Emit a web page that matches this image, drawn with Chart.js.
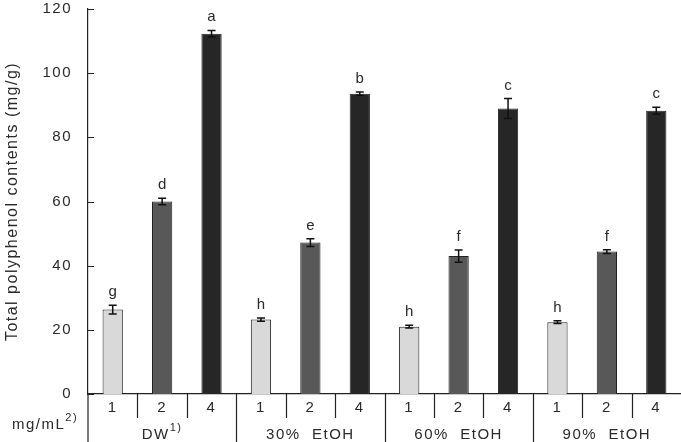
<!DOCTYPE html>
<html lang="en">
<head>
<meta charset="UTF-8">
<title>Total polyphenol contents</title>
<script src="https://cdn.jsdelivr.net/npm/chart.js"></script>
<style>
  html, body { margin: 0; padding: 0; background: #fff; }
  #wrap { width: 681px; height: 442px; }
</style>
</head>
<body>
<div id="wrap"><canvas id="chart"></canvas></div>
<script>
// data
const doses = ['1', '2', '4', '1', '2', '4', '1', '2', '4', '1', '2', '4'];
const solvents = ['DW', '30%  EtOH', '60%  EtOH', '90%  EtOH'];
const solventNotes = ['1)', '', '', ''];
const polyphenol = [26.3, 60.0, 112.3, 23.2, 47.2, 93.6, 21.0, 43.0, 89.0, 22.4, 44.4, 88.3];
const errors = [1.4, 1.0, 1.0, 0.5, 1.2, 0.5, 0.4, 1.9, 3.1, 0.4, 0.6, 1.1];
const letters = ['g', 'd', 'a', 'h', 'e', 'b', 'h', 'f', 'c', 'h', 'f', 'c'];
const yTicks = [0, 20, 40, 60, 80, 100, 120];

const doseColors = { '1': '#d9d9d9', '2': '#585858', '4': '#262626' };
const textColor = '#2a2a2a';
const fontFamily = '"Liberation Sans", Arial, sans-serif';

// draws text + smaller raised note, centred on cx
function textWithNote(ctx, text, note, cx, baseline, size) {
    ctx.font = size + 'px ' + fontFamily;
    const w1 = ctx.measureText(text).width;
    ctx.font = Math.round(size * 0.72) + 'px ' + fontFamily;
    const w2 = note ? ctx.measureText(note).width : 0;
    let x = cx - (w1 + w2) / 2;
    ctx.textAlign = 'left';
    ctx.font = size + 'px ' + fontFamily;
    ctx.fillText(text, x, baseline);
    if (note) {
        ctx.font = Math.round(size * 0.72) + 'px ' + fontFamily;
        ctx.fillText(note, x + w1, baseline - size * 0.55);
    }
}

const extras = {
    id: 'extras',
    beforeDraw(chart) {
        chart.ctx.letterSpacing = '1.5px';
    },
    afterDatasetsDraw(chart) {
        const ctx = chart.ctx;
        const y = chart.scales.y;
        const meta = chart.getDatasetMeta(0);
        ctx.save();
        ctx.strokeStyle = '#111';
        ctx.lineWidth = 1.5;
        ctx.fillStyle = textColor;
        ctx.font = '15px ' + fontFamily;
        ctx.textAlign = 'center';
        ctx.textBaseline = 'alphabetic';
        polyphenol.forEach((v, i) => {
            const cx = meta.data[i].x;
            const top = y.getPixelForValue(v + errors[i]);
            const bot = y.getPixelForValue(v - errors[i]);
            ctx.beginPath();
            ctx.moveTo(cx, top); ctx.lineTo(cx, bot);
            ctx.moveTo(cx - 4, top); ctx.lineTo(cx + 4, top);
            ctx.moveTo(cx - 4, bot); ctx.lineTo(cx + 4, bot);
            ctx.stroke();
            ctx.fillText(letters[i], cx + 0.75, top - 9);
        });
        ctx.restore();
    },
    afterDraw(chart) {
        const ctx = chart.ctx;
        const x = chart.scales.x, y = chart.scales.y;
        const area = chart.chartArea;
        ctx.save();
        ctx.strokeStyle = '#222';
        ctx.lineWidth = 1.2;
        ctx.beginPath();
        // y axis carried down through the table
        ctx.moveTo(area.left, area.bottom);
        ctx.lineTo(area.left, chart.height);
        // inward tick marks
        yTicks.forEach(v => {
            const py = Math.round(y.getPixelForValue(v)) + 0.5;
            ctx.moveTo(area.left, py);
            ctx.lineTo(area.left + 6, py);
        });
        // separators between columns
        for (let i = 0; i < doses.length - 1; i++) {
            const bx = Math.round((x.getPixelForValue(i) + x.getPixelForValue(i + 1)) / 2) + 0.5;
            ctx.moveTo(bx, area.bottom);
            ctx.lineTo(bx, (i + 1) % 3 === 0 ? chart.height : area.bottom + 24);
        }
        ctx.stroke();

        ctx.fillStyle = textColor;
        ctx.letterSpacing = '1.5px';
        solvents.forEach((s, g) => {
            const cx = (x.getPixelForValue(g * 3) + x.getPixelForValue(g * 3 + 2)) / 2;
            textWithNote(ctx, s, solventNotes[g], cx, 439, 15);
        });
        textWithNote(ctx, 'mg/mL', '2)', 45, 429, 15);
        ctx.restore();
    }
};

new Chart(document.getElementById('chart'), {
    type: 'bar',
    data: {
        labels: doses,
        datasets: [{
            data: polyphenol,
            backgroundColor: doses.map(d => doseColors[d]),
            borderColor: '#222',
            borderWidth: 1,
            barPercentage: 0.41,
            categoryPercentage: 1
        }]
    },
    options: {
        responsive: true,
        maintainAspectRatio: false,
        animation: false,
        layout: { padding: 0 },
        plugins: {
            legend: { display: false },
            tooltip: { enabled: false }
        },
        scales: {
            x: {
                grid: { display: false, drawTicks: false },
                border: { color: '#222', width: 1.2 },
                ticks: {
                    color: textColor,
                    font: { family: fontFamily, size: 15 },
                    padding: 5,
                    maxRotation: 0
                },
                afterFit: s => { s.height = 48; }
            },
            y: {
                min: 0,
                max: 120,
                afterBuildTicks: s => { s.ticks = yTicks.map(v => ({ value: v })); },
                grid: { display: false, drawTicks: false },
                border: { color: '#222', width: 1.2 },
                ticks: {
                    color: textColor,
                    font: { family: fontFamily, size: 15 },
                    padding: 16
                },
                title: {
                    display: true,
                    text: 'Total polyphenol contents (mg/g)',
                    color: textColor,
                    font: { family: fontFamily, size: 16 },
                    padding: { top: 3, bottom: 0 }
                },
                afterFit: s => {
                    s.width = 88;
                    s.paddingTop = 9;
                    s.paddingBottom = 0;
                }
            }
        }
    },
    plugins: [extras]
});
</script>
</body>
</html>
